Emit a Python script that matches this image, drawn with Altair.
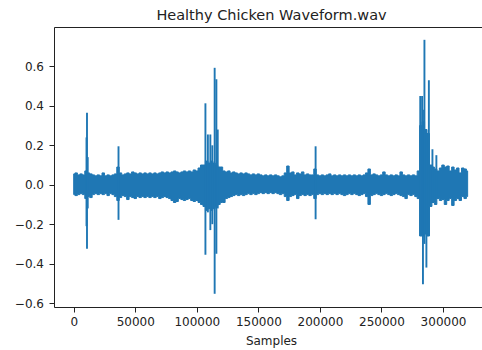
import altair as alt
import pandas as pd

# envelope of the waveform, one value every 2000 samples
bin_step = 2000
env_top = [
    0.055, 0.06, 0.05, 0.055, 0.05, 0.07, 0.06, 0.055, 0.05, 0.045,
    0.05, 0.045, 0.06, 0.045, 0.05, 0.045, 0.05, 0.055, 0.09, 0.06,
    0.05, 0.055, 0.06, 0.055, 0.065, 0.06, 0.055, 0.06, 0.055, 0.06,
    0.055, 0.06, 0.055, 0.06, 0.055, 0.06, 0.065, 0.06, 0.065, 0.06,
    0.065, 0.07, 0.065, 0.06, 0.065, 0.07, 0.065, 0.07, 0.065, 0.075,
    0.07, 0.085, 0.1, 0.1, 0.12, 0.11, 0.12, 0.11, 0.1, 0.09,
    0.09, 0.07, 0.065, 0.07, 0.06, 0.065, 0.06, 0.055, 0.06, 0.055,
    0.06, 0.055, 0.05, 0.055, 0.05, 0.055, 0.05, 0.045, 0.05, 0.045,
    0.05, 0.045, 0.05, 0.045, 0.04, 0.045, 0.06, 0.095, 0.06, 0.065,
    0.05, 0.06, 0.055, 0.065, 0.05, 0.055, 0.05, 0.05, 0.08, 0.05,
    0.045, 0.05, 0.045, 0.05, 0.055, 0.045, 0.05, 0.045, 0.05, 0.045,
    0.05, 0.045, 0.05, 0.045, 0.05, 0.045, 0.05, 0.045, 0.05, 0.06,
    0.08, 0.05, 0.055, 0.05, 0.045, 0.05, 0.065, 0.05, 0.045, 0.05,
    0.045, 0.05, 0.045, 0.065, 0.05, 0.045, 0.05, 0.045, 0.05, 0.045,
    0.07, 0.3, 0.32, 0.28, 0.26, 0.1, 0.09, 0.08, 0.07, 0.085,
    0.1, 0.09, 0.095, 0.07, 0.09, 0.075, 0.085, 0.06, 0.085, 0.08,
    0.07,
]
env_bottom = [
    -0.05, -0.055, -0.05, -0.045, -0.05, -0.07, -0.06, -0.065, -0.05, -0.045,
    -0.05, -0.045, -0.05, -0.045, -0.055, -0.045, -0.05, -0.06, -0.08, -0.065,
    -0.055, -0.06, -0.075, -0.06, -0.065, -0.07, -0.06, -0.065, -0.06, -0.065,
    -0.06, -0.065, -0.06, -0.065, -0.06, -0.07, -0.065, -0.06, -0.065, -0.07,
    -0.08, -0.09, -0.085, -0.07, -0.075, -0.08, -0.075, -0.07, -0.08, -0.085,
    -0.08, -0.09, -0.1, -0.11, -0.13, -0.12, -0.13, -0.12, -0.11, -0.1,
    -0.09, -0.09, -0.07, -0.065, -0.06, -0.055, -0.05, -0.055, -0.05, -0.055,
    -0.05, -0.045, -0.05, -0.045, -0.05, -0.045, -0.04, -0.045, -0.04, -0.045,
    -0.04, -0.045, -0.04, -0.045, -0.05, -0.045, -0.06, -0.08, -0.06, -0.055,
    -0.05, -0.07, -0.055, -0.05, -0.055, -0.05, -0.055, -0.05, -0.07, -0.05,
    -0.045, -0.05, -0.045, -0.05, -0.045, -0.05, -0.045, -0.05, -0.045, -0.05,
    -0.055, -0.05, -0.045, -0.05, -0.045, -0.05, -0.055, -0.05, -0.045, -0.06,
    -0.1, -0.055, -0.05, -0.045, -0.05, -0.055, -0.05, -0.045, -0.05, -0.055,
    -0.05, -0.045, -0.05, -0.055, -0.06, -0.07, -0.05, -0.055, -0.05, -0.06,
    -0.07, -0.26, -0.26, -0.25, -0.26, -0.11, -0.09, -0.1, -0.07, -0.08,
    -0.075, -0.1, -0.08, -0.07, -0.105, -0.08, -0.07, -0.08, -0.06, -0.07,
    -0.06,
]

# individual peaks (sample, max, min)
spike_x = [10400, 10800, 11400, 36400, 107000, 109000, 111000, 112600, 114500,
           115900, 117000, 196500, 281500, 283000, 283700, 284900, 286500,
           288500, 291400, 294600]
spike_top = [0.24, 0.365, 0.14, 0.195, 0.413, 0.255, 0.255, 0.2, 0.593,
             0.535, 0.28, 0.195, 0.45, 0.45, 0.38, 0.735, 0.26,
             0.53, 0.18, 0.15]
spike_bottom = [-0.21, -0.325, -0.12, -0.178, -0.355, -0.14, -0.23, -0.2, -0.553,
                -0.35, -0.12, -0.175, -0.26, -0.26, -0.505, -0.3, -0.42,
                -0.26, -0.09, -0.07]

x_ticks = [0, 50000, 100000, 150000, 200000, 250000, 300000]
y_ticks = [-0.6, -0.4, -0.2, 0.0, 0.2, 0.4, 0.6]
title_text = "Healthy Chicken Waveform.wav"
x_title = "Samples"

env = pd.DataFrame({
    "sample": [i * bin_step for i in range(len(env_top))],
    "top": env_top,
    "bottom": env_bottom,
})
spikes = pd.DataFrame({"sample": spike_x, "top": spike_top, "bottom": spike_bottom})

BLUE = "#1f77b4"
FONT = "DejaVu Sans"
INK = "#222222"
xscale = alt.Scale(domain=[-16000, 331660], nice=False, zero=False)
yscale = alt.Scale(domain=[-0.62, 0.80], nice=False, zero=False)

common = dict(grid=False, domainColor=INK, domainWidth=1, tickColor=INK, tickWidth=1,
              labelFont=FONT, labelFontSize=12, labelColor=INK,
              titleFont=FONT, titleFontWeight="normal", titleColor=INK)

y_axis = alt.Axis(values=y_ticks, format=".1f", title=None, tickSize=5,
                  labelPadding=5.5, labelFlush=False, **common)

band = alt.Chart(env).mark_area(color=BLUE, stroke=BLUE, strokeWidth=1,
                                interpolate="step").encode(
    x=alt.X("sample:Q", scale=xscale,
            axis=alt.Axis(values=x_ticks, format="d", title=x_title,
                          tickSize=5, labelPadding=4.5, titleFontSize=12,
                          titleX=217, titleY=37, titleAlign="center",
                          titleBaseline="alphabetic", labelFlush=False, **common)),
    y=alt.Y("top:Q", scale=yscale, axis=y_axis),
    y2="bottom:Q",
)

peaks = alt.Chart(spikes).mark_rule(color=BLUE, strokeWidth=1.9).encode(
    x=alt.X("sample:Q", scale=xscale,
            axis=alt.Axis(orient="top", labels=False, ticks=False, title=title_text,
                          titleFontSize=14.5, titleX=217, titleY=-7.5,
                          titleAlign="center", titleBaseline="alphabetic",
                          domain=True, **common)),
    y=alt.Y("top:Q", scale=yscale, axis=y_axis),
    y2="bottom:Q",
)

chart = alt.layer(band, peaks).resolve_axis(x="independent").properties(
    width=428,
    height=280,
    padding={"left": 54, "top": 27, "right": 0, "bottom": 43},
    autosize=alt.AutoSizeParams(type="none"),
).configure_view(strokeWidth=0).configure(background="white")

chart.save("out.html", embed_options={"renderer": "svg", "actions": False})
